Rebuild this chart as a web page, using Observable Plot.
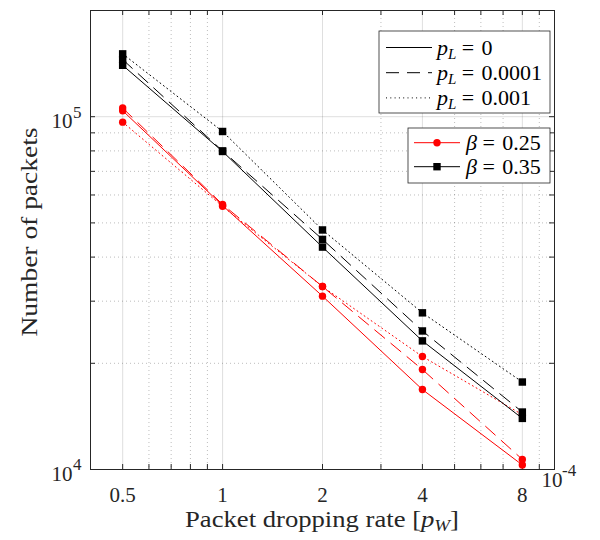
<!DOCTYPE html>
<html>
<head>
<meta charset="utf-8">
<script src="https://cdn.jsdelivr.net/npm/d3@7"></script>
<script src="https://cdn.jsdelivr.net/npm/@observablehq/plot@0.6"></script>
<style>
  html, body { margin: 0; padding: 0; background: #fff; }
  #chart { width: 600px; height: 540px; }
</style>
</head>
<body>
<div id="chart"></div>
<script>
// Packet dropping rate p_W, in units of 10^-4
const pW = [0.5, 1, 2, 4, 8];
const lossLabels = ["0", "0.0001", "0.001"];     // p_L
const betaLabels = ["0.25", "0.35"];             // β

// Number of packets, β = 0.25
const packetsB025_pL0     = [104000, 56000, 31000, 16850, 10300];
const packetsB025_pL1e4   = [105800, 56400, 33000, 19200, 10680];
const packetsB025_pL1e3   = [96500, 55700, 33000, 20900, 14300];
// Number of packets, β = 0.35
const packetsB035_pL0     = [139900, 79700, 42700, 23150, 13960];
const packetsB035_pL1e4   = [145200, 80000, 44900, 24700, 14550];
const packetsB035_pL1e3   = [150700, 90800, 47750, 27800, 17700];

// Axis ticks
const xTicks = [0.5, 1, 2, 4, 8];
const xTickLabels = ["0.5", "1", "2", "4", "8"];
const xMinor = [0.6, 0.7, 0.8, 0.9, 3, 5, 6, 7, 9];
const yTicks = [1e4, 1e5];
const yMinor = [2e4, 3e4, 4e4, 5e4, 6e4, 7e4, 8e4, 9e4, 2e5];

const series = [
  {beta: "0.25", pL: "0",      values: packetsB025_pL0},
  {beta: "0.25", pL: "0.0001", values: packetsB025_pL1e4},
  {beta: "0.25", pL: "0.001",  values: packetsB025_pL1e3},
  {beta: "0.35", pL: "0",      values: packetsB035_pL0},
  {beta: "0.35", pL: "0.0001", values: packetsB035_pL1e4},
  {beta: "0.35", pL: "0.001",  values: packetsB035_pL1e3}
];

const ink = "#262626";
const font = "'Liberation Serif', 'Times New Roman', serif";
const colorOf = {"0.25": "#ff0000", "0.35": "#000000"};
const dashOf = {"0": null, "0.0001": "13,8", "0.001": "1,3.3"};

const W = 600, H = 540;
const mL = 90, mR = 46, mT = 10, mB = 71;
const innerW = W - mL - mR, innerH = H - mT - mB;
const tickLen = 5;
const allX = [...xTicks, ...xMinor];
const allY = [...yTicks, ...yMinor.filter(d => d < 2e5)];

const seriesMarks = series.flatMap(s => {
  const rows = pW.map((x, i) => ({x, y: s.values[i]}));
  const color = colorOf[s.beta];
  return [
    Plot.line(rows, {x: "x", y: "y", stroke: color, strokeWidth: 1, strokeDasharray: dashOf[s.pL]}),
    Plot.dot(rows, {x: "x", y: "y", fill: color, stroke: "none",
      symbol: s.beta === "0.25" ? "circle" : "square", r: s.beta === "0.25" ? 3.7 : 4.2})
  ];
});

const chart = Plot.plot({
  width: W, height: H,
  marginLeft: mL, marginRight: mR, marginTop: mT, marginBottom: mB,
  style: {fontFamily: font, fontSize: "21px", color: ink, background: "#fff"},
  x: {type: "log", domain: [0.4, 10], axis: null},
  y: {type: "log", domain: [1e4, 2e5], axis: null},
  marks: [
    // grid
    Plot.ruleX(xMinor, {stroke: ink, strokeOpacity: 0.3, strokeDasharray: "1,3"}),
    Plot.ruleY(yMinor, {stroke: ink, strokeOpacity: 0.3, strokeDasharray: "1,3"}),
    Plot.ruleX(xTicks, {stroke: ink, strokeOpacity: 0.15}),
    Plot.ruleY(yTicks, {stroke: ink, strokeOpacity: 0.15}),
    // inward ticks on all four sides
    Plot.ruleX(allX, {stroke: ink, insetTop: innerH - tickLen}),
    Plot.ruleX(allX, {stroke: ink, insetBottom: innerH - tickLen}),
    Plot.ruleY(allY, {stroke: ink, insetRight: innerW - tickLen}),
    Plot.ruleY(allY, {stroke: ink, insetLeft: innerW - tickLen}),
    ...seriesMarks,
    Plot.frame({stroke: ink, strokeWidth: 1}),
    // x tick labels
    Plot.text(xTicks, {x: d => d, text: (d, i) => xTickLabels[i], frameAnchor: "bottom",
      lineAnchor: "top", dy: 18, fontSize: 21, fill: ink}),
    // y tick labels as powers of ten
    Plot.text(yTicks, {y: d => d, text: () => "10", frameAnchor: "left", textAnchor: "end",
      lineAnchor: "middle", dx: -18, dy: 5, fontSize: 21, fill: ink}),
    Plot.text(yTicks, {y: d => d, text: d => String(Math.round(Math.log10(d))), frameAnchor: "left",
      textAnchor: "end", lineAnchor: "middle", dx: -9, dy: -4.5, fontSize: 17, fill: ink}),
    // x-axis exponent
    Plot.text(["10"], {text: d => d, frameAnchor: "bottom-right", textAnchor: "start",
      lineAnchor: "middle", dx: -13, dy: 11, fontSize: 21, fill: ink}),
    Plot.text(["-4"], {text: d => d, frameAnchor: "bottom-right", textAnchor: "start",
      lineAnchor: "middle", dx: 7.5, dy: 1.5, fontSize: 17, fill: ink})
  ]
});

document.getElementById("chart").appendChild(chart);

const svg = d3.select(chart);

// Axis titles
const xTitle = svg.append("text")
  .attr("x", mL + innerW / 2).attr("y", 526.5)
  .attr("text-anchor", "middle").attr("font-family", font).attr("font-size", 24)
  .attr("fill", ink).attr("textLength", 274).attr("lengthAdjust", "spacingAndGlyphs");
xTitle.append("tspan").text("Packet dropping rate [");
xTitle.append("tspan").attr("font-style", "italic").text("p");
xTitle.append("tspan").attr("font-style", "italic").attr("font-size", 17).attr("dy", 4).text("W");
xTitle.append("tspan").attr("dy", -4).text("]");

svg.append("text")
  .attr("transform", "translate(37,232) rotate(-90)")
  .attr("text-anchor", "middle").attr("font-family", font).attr("font-size", 24)
  .attr("fill", ink).attr("textLength", 209).attr("lengthAdjust", "spacingAndGlyphs")
  .text("Number of packets");

// Legends
const legend = svg.append("g")
  .attr("font-family", font).attr("font-size", 22).attr("fill", "#000")
  .attr("text-anchor", "start");

function mathLabel(g, x, y, sym, sub, value) {
  const t = g.append("text").attr("x", x).attr("y", y).attr("text-anchor", "start");
  t.append("tspan").attr("font-style", "italic").text(sym);
  if (sub) t.append("tspan").attr("font-style", "italic").attr("font-size", 15).attr("dy", 4).text(sub);
  t.append("tspan").attr("dy", sub ? -4 : 0).text("\u2005=\u2004" + value);
}

// line style legend
const box1 = {x: 379, y: 31, w: 171, h: 82, row0: 47.5, step: 25.2};
legend.append("rect").attr("x", box1.x).attr("y", box1.y).attr("width", box1.w).attr("height", box1.h)
  .attr("fill", "#fff").attr("stroke", ink).attr("stroke-width", 0.8);
lossLabels.forEach((v, i) => {
  const cy = box1.row0 + i * box1.step;
  legend.append("line").attr("x1", box1.x + 7).attr("x2", box1.x + 53).attr("y1", cy).attr("y2", cy)
    .attr("stroke", "#000").attr("stroke-width", 1).attr("stroke-dasharray", dashOf[v]);
  mathLabel(legend, box1.x + 58, cy + 7, "p", "L", v);
});

// marker legend
const box2 = {x: 408, y: 128, w: 142, h: 55, row0: 142.7, step: 24};
legend.append("rect").attr("x", box2.x).attr("y", box2.y).attr("width", box2.w).attr("height", box2.h)
  .attr("fill", "#fff").attr("stroke", ink).attr("stroke-width", 0.8);
betaLabels.forEach((v, i) => {
  const cy = box2.row0 + i * box2.step;
  const c = colorOf[v];
  legend.append("line").attr("x1", box2.x + 6).attr("x2", box2.x + 52).attr("y1", cy).attr("y2", cy)
    .attr("stroke", c).attr("stroke-width", 1);
  if (v === "0.25") {
    legend.append("circle").attr("cx", box2.x + 29).attr("cy", cy).attr("r", 3.7).attr("fill", c);
  } else {
    legend.append("rect").attr("x", box2.x + 29 - 3.7).attr("y", cy - 3.7).attr("width", 7.4).attr("height", 7.4).attr("fill", c);
  }
  mathLabel(legend, box2.x + 58, cy + 7, "\u03B2", null, v);
});
</script>
</body>
</html>
